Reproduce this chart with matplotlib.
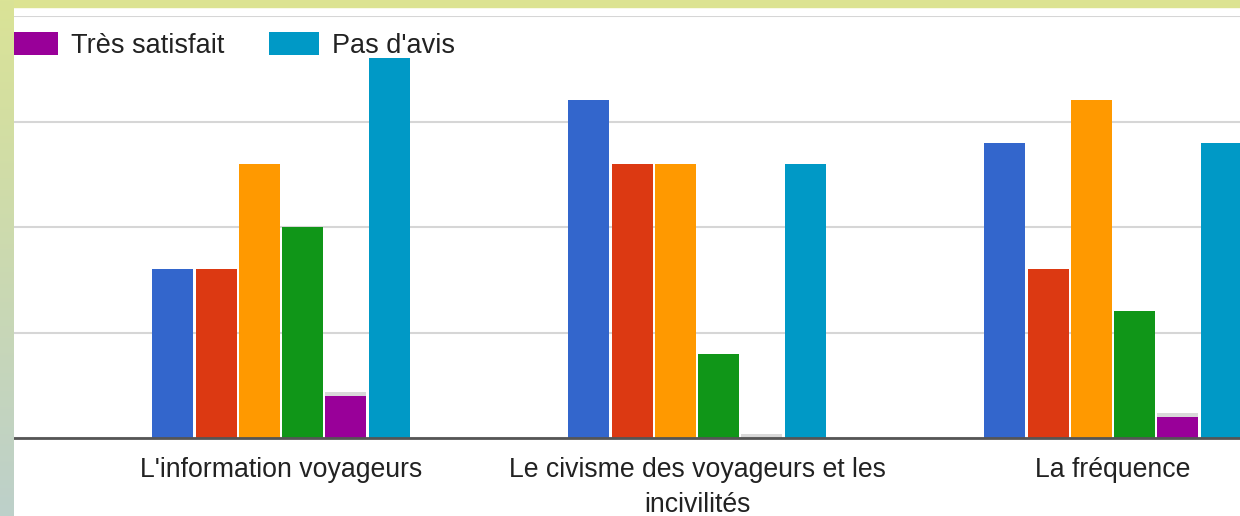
import numpy as np
import matplotlib
matplotlib.use("Agg")
import matplotlib.pyplot as plt
from matplotlib.patches import Rectangle

# data
categories = ["L'information voyageurs",
              "Le civisme des voyageurs et les\nincivilités",
              "La fréquence"]
series_names = ["Pas du tout satisfait", "Peu satisfait", "Assez satisfait",
                "Satisfait", "Très satisfait", "Pas d'avis"]
series_colors = ["#3366cc", "#dc3912", "#ff9900", "#109618", "#990099", "#0099c6"]
values = [
    [8, 16, 14],   # blue
    [8, 13, 8],    # red
    [13, 13, 16],  # orange
    [10, 4, 6],    # green
    [2, 0, 1],     # purple - Très satisfait
    [18, 13, 14],  # cyan - Pas d'avis
]
y_ticks = [0, 5, 10, 15, 20]

W, H = 1240, 516
fig = plt.figure(figsize=(W / 100, H / 100), dpi=100)
fig.patch.set_facecolor("white")

# main plot area (pixel layout of the screenshot)
left, right, top, base = 13, 1240, 16, 438
ax = fig.add_axes([left / W, (H - base) / H, (right - left) / W, (base - top) / H])
ax.set_zorder(1)

pitch = 0.104
width = 0.0986
x = np.arange(len(categories))
bars = []
for i, (vals, col) in enumerate(zip(values, series_colors)):
    off = (i - 2.5) * pitch
    b = ax.bar(x + off, vals, width=width, color=col, zorder=3,
               label=series_names[i])
    bars.append(b)
    if series_names[i] == "Très satisfait":
        # little hover shadow above the purple bars
        ax.bar(x + off, [0.2] * len(vals), bottom=vals, width=width,
               color="black", alpha=0.15, zorder=2)

ax.set_ylim(0, 20)
ax.set_xlim((left - 281) / 416, (right - 281) / 416)
ax.set_yticks(y_ticks)
ax.yaxis.grid(True, color="#d6d6d6", linewidth=1.5, zorder=0)
ax.set_axisbelow(True)
ax.tick_params(axis="y", left=False, labelleft=False)
ax.axhline(0, color="#555555", linewidth=2.0, zorder=4, clip_on=False)
for s in ax.spines.values():
    s.set_visible(False)

ax.set_xticks(x)
ax.set_xticklabels(categories, fontsize=19.2, color="#222222",
                   family=["Liberation Sans", "DejaVu Sans"], linespacing=1.45)
ax.tick_params(axis="x", length=0, pad=14)

leg = ax.legend(handles=[bars[4], bars[5]], ncol=2, frameon=False,
                loc="upper left", bbox_to_anchor=(7 / W, 1 - 32 / H),
                bbox_transform=fig.transFigure,
                prop={"family": ["Liberation Sans", "DejaVu Sans"], "size": 19.5},
                handlelength=1.87, handleheight=0.92, handletextpad=0.48,
                columnspacing=1.65, borderpad=0, borderaxespad=0)
for t in leg.get_texts():
    t.set_color("#222222")

# yellow-green frame of the screenshot
fig.add_artist(Rectangle((0, 1 - 7 / H), 1, 7 / H, transform=fig.transFigure,
                         color="#dce392", zorder=10))
bax = fig.add_axes([0, 0, 13 / W, 1])
bax.set_zorder(10)
top_c = np.array([218, 227, 150]) / 255
bot_c = np.array([189, 208, 202]) / 255
grad = np.linspace(0, 1, 256)[:, None, None]
img = top_c * (1 - grad) + bot_c * grad
bax.imshow(img, aspect="auto", extent=[0, 1, 0, 1])
bax.axis("off")

fig.savefig("out.png", dpi=100)
